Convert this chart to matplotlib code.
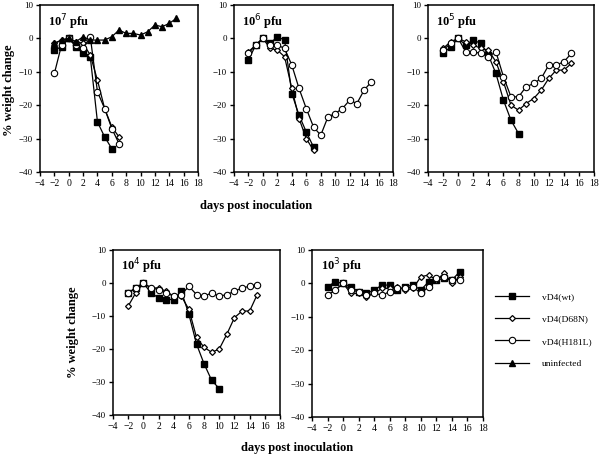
import matplotlib
matplotlib.use("Agg")
import matplotlib.pyplot as plt
from matplotlib.lines import Line2D

plt.rcParams.update({"font.family": "Liberation Serif", "font.size": 7,
                     "axes.linewidth": 1.1, "xtick.major.width": 1.0, "ytick.major.width": 1.0,
                     "xtick.major.size": 3, "ytick.major.size": 3,
                     "xtick.labelsize": 7, "ytick.labelsize": 6.5})

DAYS = list(range(-2, 16))

# ---- 10^7 pfu ----
wt7 = [-3.5, -2.5, 0, -2.5, -4.5, -5.5, -25, -29.5, -33]
d68n7 = [-1.5, -0.5, 0, -1, -1.5, -5, -12.5, -21, -26.5, -29.5]
h181l7 = [-10.5, -2, 0, -2, -3, 0.5, -16, -21, -27, -31.5]
mock7 = [-1.5, -0.5, 0, -1, 0.5, -0.5, -0.5, -0.5, 0.5, 2.5, 1.5, 1.5, 1, 2, 4, 3.5, 4.5, 6]

# ---- 10^6 pfu ----
wt6 = [-6.5, -2, 0, -1.5, 0.5, -0.5, -16.5, -23, -28, -32.5]
d68n6 = [-4, -2, 0, -3, -3.5, -5.5, -15, -24, -30, -33.5]
h181l6 = [-4.5, -2, 0, -2, -2, -3, -8, -15, -21, -26.5, -29, -23.5, -22.5, -21, -18.5, -19.5, -15.5, -13]

# ---- 10^5 pfu ----
wt5 = [-4.5, -2.5, 0, -2, -0.5, -1.5, -5, -10.5, -18.5, -24.5, -28.5]
d68n5 = [-3, -1, 0, -1, -2, -3, -3.5, -7, -13, -20, -21.5, -19.5, -18, -15.5, -12, -9.5, -9.5, -7.5]
h181l5 = [-3.5, -1.5, 0, -4, -4, -4.5, -5.5, -4, -11.5, -17.5, -17.5, -14.5, -13.5, -12, -8, -8, -7, -4.5]

# ---- 10^4 pfu ----
wt4 = [-3, -1.5, 0, -3, -4.5, -5, -5, -2.5, -9.5, -18.5, -24.5, -29.5, -32]
d68n4 = [-7, -3, 0, -1.5, -1.5, -2.5, -4, -4, -8, -16.5, -19.5, -21, -20, -15.5, -10.5, -8.5, -8.5, -3.5]
h181l4 = [-3, -1.5, 0, -1.5, -2, -3, -4, -3.5, -1, -3.5, -4, -3, -4, -3.5, -2.5, -1.5, -1, -0.5]

# ---- 10^3 pfu ----
wt3 = [-1, 0.5, 0, -1, -2.5, -3, -2, -0.5, -0.5, -2, -1, -0.5, -2, 0.5, 1, 1.5, 1, 3.5]
d68n3 = [-3.5, -2, 0, -3, -3, -4, -3, -1.5, -1.5, -1, -2, -1.5, 2, 2.5, 1, 3, 0, 2]
h181l3 = [-3.5, -2, 0, -2, -2.5, -3.5, -3, -3.5, -2.5, -1.5, -1.5, -1, -3, -1, 1.5, 2, 1, 1]

PANELS = [
    ("7", [wt7, d68n7, h181l7, mock7], (40, 5, 158, 167)),
    ("6", [wt6, d68n6, h181l6], (234, 5, 159, 167)),
    ("5", [wt5, d68n5, h181l5], (428, 5, 166, 167)),
    ("4", [wt4, d68n4, h181l4], (113, 250, 167, 165)),
    ("3", [wt3, d68n3, h181l3], (312, 250, 171, 167)),
]
LABELS = ["vD4(wt)", "vD4(D68N)", "vD4(H181L)", "uninfected"]
STYLES = [dict(marker="s", ms=4.2, mfc="black", mec="black"),
          dict(marker="D", ms=3.0, mfc="white", mec="black", mew=0.9),
          dict(marker="o", ms=4.6, mfc="white", mec="black", mew=0.8),
          dict(marker="^", ms=4.4, mfc="black", mec="black")]

W, H = 600, 458
fig = plt.figure(figsize=(W / 100, H / 100), dpi=100)

for dose, series, (px, py, pw, ph) in PANELS:
    ax = fig.add_axes([px / W, 1 - (py + ph) / H, pw / W, ph / H])
    for vals, st in zip(series, STYLES):
        ax.plot(DAYS[:len(vals)], vals, color="black", lw=0.9, **st)
    ax.set_xlim(-4, 18); ax.set_ylim(-40, 10)
    ax.set_xticks(range(-4, 19, 2)); ax.set_yticks(range(-40, 11, 10))
    ax.tick_params(direction="out", pad=2)
    ax.text(0.05, 0.9, f"10$^{{{dose}}}$ pfu", transform=ax.transAxes, fontsize=9,
            fontweight="bold", va="center")

fig.text(256 / W, 1 - 206 / H, "days post inoculation", ha="center", va="center",
         fontsize=9, fontweight="bold")
fig.text(297 / W, 1 - 448 / H, "days post inoculation", ha="center", va="center",
         fontsize=9, fontweight="bold")
fig.text(9 / W, 1 - 90 / H, "% weight change", rotation=90, ha="center", va="center",
         fontsize=9, fontweight="bold")
fig.text(73 / W, 1 - 332 / H, "% weight change", rotation=90, ha="center", va="center",
         fontsize=9, fontweight="bold")

handles = [Line2D([], [], color="black", lw=0.9, **st) for st in STYLES]
fig.legend(handles, LABELS, loc="upper left", bbox_to_anchor=(486 / W, 1 - 284 / H),
           frameon=False, fontsize=6.8, handlelength=3.6, handletextpad=1.4,
           labelspacing=1.45)

fig.savefig("out.png", dpi=100)
